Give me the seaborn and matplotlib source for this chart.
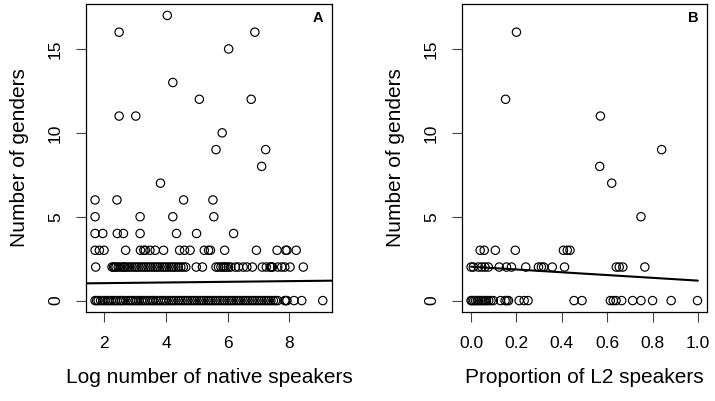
import numpy as np
import pandas as pd
import matplotlib
matplotlib.use("Agg")
import matplotlib.pyplot as plt
import seaborn as sns

# ---- panel A: number of genders vs log number of native speakers ----
a_genders = [17, 16, 15, 13, 12, 11, 10, 9, 8, 7, 6, 5, 4, 3, 2, 0]
a_log_speakers = [
    [4.04],
    [2.48, 6.88],
    [6.03],
    [4.22],
    [5.08, 6.76],
    [2.48, 3.02],
    [5.82],
    [5.62, 7.23],
    [7.10],
    [3.82],
    [1.70, 2.41, 4.57, 5.52],
    [1.70, 3.16, 4.22, 5.55],
    [1.70, 1.95, 2.42, 2.62, 3.16, 4.34, 4.99, 6.19],
    [1.70, 1.84, 1.99, 2.69, 3.17, 3.28, 3.33, 3.48, 3.65, 3.92, 4.44, 4.60,
     4.78, 5.24, 5.38, 5.44, 5.90, 6.93, 7.60, 7.88, 7.92, 8.22],
    [1.72, 2.25, 2.30, 2.34, 2.38, 2.45, 2.52, 2.60, 2.64, 2.68, 2.75, 2.82,
     2.90, 2.98, 3.05, 3.12, 3.20, 3.28, 3.35, 3.42, 3.50, 3.58, 3.65, 3.72,
     3.80, 3.88, 3.95, 4.02, 4.10, 4.18, 4.25, 4.32, 4.40, 4.48, 4.56, 4.64,
     4.98, 5.18, 5.62, 5.70, 5.78, 5.85, 5.90, 5.95, 6.02, 6.10, 6.25, 6.35,
     6.50, 6.62, 6.80, 7.12, 7.25, 7.38, 7.40, 7.42, 7.45, 7.62, 7.75, 7.85,
     8.02, 8.45],
    [1.70, 1.75, 1.80, 1.88, 1.95, 2.02, 2.10, 2.15, 2.22, 2.30, 2.36, 2.42,
     2.50, 2.55, 2.62, 2.70, 2.78, 2.85, 2.92, 3.00, 3.05, 3.12, 3.20, 3.26,
     3.33, 3.40, 3.48, 3.55, 3.60, 3.68, 3.75, 3.82, 3.90, 3.96, 4.02, 4.10,
     4.18, 4.25, 4.32, 4.40, 4.48, 4.55, 4.62, 4.70, 4.78, 4.85, 4.92, 5.00,
     5.08, 5.15, 5.22, 5.30, 5.38, 5.45, 5.52, 5.60, 5.68, 5.75, 5.82, 5.90,
     5.98, 6.05, 6.12, 6.20, 6.28, 6.35, 6.42, 6.50, 6.58, 6.65, 6.72, 6.80,
     6.88, 6.95, 7.02, 7.10, 7.18, 7.25, 7.32, 7.40, 7.48, 7.55, 7.62, 7.85,
     7.88, 7.92, 8.15, 8.40, 9.08],
]
a_fit_intercept = 1.0
a_fit_slope = 0.02

# ---- panel B: number of genders vs proportion of L2 speakers ----
b_genders = [16, 12, 11, 9, 8, 7, 5, 3, 2, 0]
b_l2_prop = [
    [0.20],
    [0.152],
    [0.57],
    [0.84],
    [0.567],
    [0.62],
    [0.749],
    [0.04, 0.058, 0.107, 0.195, 0.407, 0.424, 0.436],
    [0.0, 0.01, 0.032, 0.047, 0.061, 0.076, 0.124, 0.156, 0.178, 0.241,
     0.297, 0.310, 0.320, 0.358, 0.412, 0.640, 0.653, 0.669, 0.766],
    [0.0, 0.005, 0.012, 0.02, 0.028, 0.035, 0.045, 0.052, 0.06, 0.068,
     0.078, 0.088, 0.098, 0.13, 0.150, 0.158, 0.165, 0.212, 0.234, 0.251,
     0.454, 0.489, 0.614, 0.627, 0.639, 0.664, 0.712, 0.749, 0.80, 0.882,
     0.998],
]
b_fit_x = [0.0, 1.0]
b_fit_intercept = 2.02
b_fit_slope = -0.83


def long_df(ys, xs):
    rows = [(x, y) for y, row in zip(ys, xs) for x in row]
    return pd.DataFrame(rows, columns=["x", "genders"])


df_a = long_df(a_genders, a_log_speakers)
df_b = long_df(b_genders, b_l2_prop)

sns.set_style("ticks")
plt.rcParams["font.family"] = ["Liberation Sans", "DejaVu Sans"]
plt.rcParams["text.color"] = "black"
plt.rcParams["axes.labelcolor"] = "black"
plt.rcParams["xtick.color"] = "black"
plt.rcParams["ytick.color"] = "black"

fig = plt.figure(figsize=(7.15, 4.01), dpi=100)
ax_a = fig.add_axes([86 / 715, 1 - 312 / 401, 246 / 715, 308 / 401])
ax_b = fig.add_axes([462 / 715, 1 - 312 / 401, 245 / 715, 308 / 401])

for ax, df in [(ax_a, df_a), (ax_b, df_b)]:
    sns.scatterplot(data=df, x="x", y="genders", ax=ax, marker="o", s=36,
                    facecolors="none", edgecolor="black", linewidth=0.85)

# fitted lines
ax_a.axline((0, a_fit_intercept), slope=a_fit_slope, color="black", lw=1.5)
b_fit_y = [b_fit_intercept + b_fit_slope * x for x in b_fit_x]
sns.lineplot(x=b_fit_x, y=b_fit_y, ax=ax_b, color="black", lw=1.5)

ax_a.set_xlim(1.406, 9.38)
ax_b.set_xlim(-0.04, 1.04)
ax_a.set_xticks([2, 4, 6, 8])
ax_b.set_xticks([0.0, 0.2, 0.4, 0.6, 0.8, 1.0])
ax_b.set_xticklabels(["0.0", "0.2", "0.4", "0.6", "0.8", "1.0"])

for ax, lab, xlab in [(ax_a, "A", "Log number of native speakers"),
                      (ax_b, "B", "Proportion of L2 speakers")]:
    ax.set_ylim(-0.68, 17.68)
    ax.set_yticks([0, 5, 10, 15])
    for s in ax.spines.values():
        s.set_visible(True)
        s.set_linewidth(0.9)
        s.set_color("black")
    ax.tick_params(length=7.5, width=0.8, pad=10, labelsize=12.5,
                   color="#444444", labelcolor="black")
    ax.tick_params(axis="y", labelrotation=90, pad=9)
    for t in ax.get_yticklabels():
        t.set_va("center")
    ax.set_xlabel(xlab, fontsize=15, labelpad=12, color="black")
    ax.set_ylabel("Number of genders", fontsize=15, labelpad=14, color="black")
    ax.text(0.965, 0.955, lab, transform=ax.transAxes, ha="right", va="center",
            fontsize=10.5, fontweight="bold", color="black")

fig.savefig("out.png", dpi=100)
